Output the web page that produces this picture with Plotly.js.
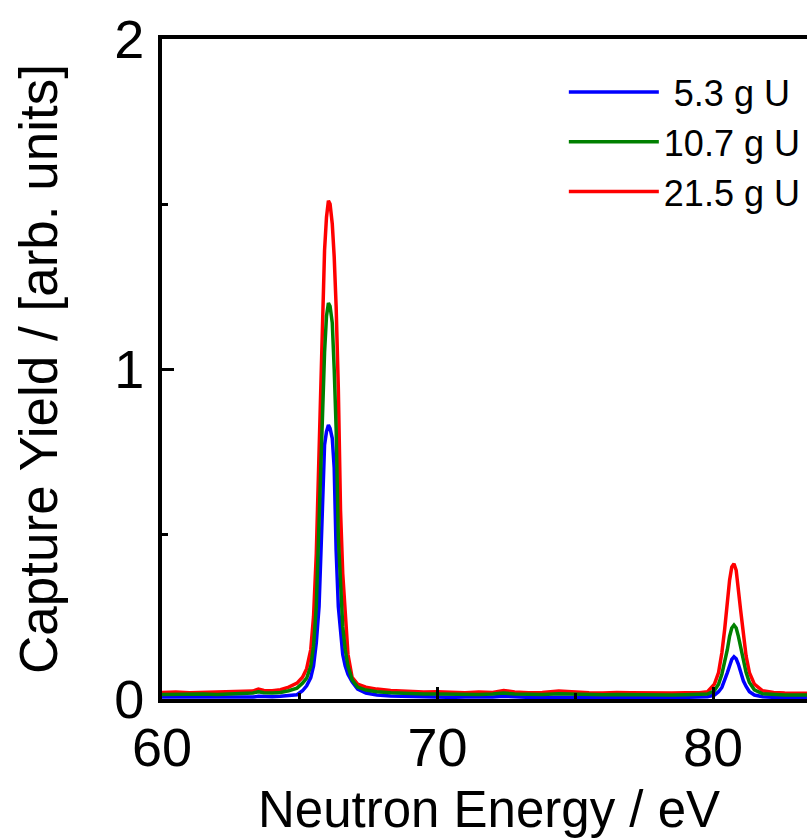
<!DOCTYPE html>
<html>
<head>
<meta charset="utf-8">
<script src="https://cdn.plot.ly/plotly-3.0.1.min.js"></script>
<style>
html,body{margin:0;padding:0;background:#fff;overflow:hidden;}
#chart{width:807px;height:839px;}
</style>
</head>
<body>
<div id="chart"></div>
<script>
// Neutron energy grid (eV)
const energy = [
  60.0, 60.5, 61.0, 61.5, 62.0, 62.5, 63.0, 63.3, 63.5, 63.7,
  64.0, 64.3, 64.6, 64.9, 65.1, 65.25, 65.4, 65.5, 65.6, 65.7,
  65.8, 65.9, 65.97, 66.04, 66.1, 66.18, 66.25, 66.32, 66.4, 66.48,
  66.56, 66.65, 66.75, 66.9, 67.1, 67.4, 67.8, 68.3, 69.0, 69.5,
  70.0, 70.5, 71.0, 71.5, 72.0, 72.4, 72.8, 73.3, 73.8, 74.4,
  75.0, 75.5, 76.0, 76.5, 77.0, 77.5, 78.0, 78.5, 79.0, 79.5,
  79.8, 80.05, 80.2, 80.32, 80.42, 80.52, 80.6, 80.68, 80.76, 80.84,
  80.92, 81.0, 81.1, 81.2, 81.32, 81.5, 81.8, 82.2, 82.6, 83.0,
  83.5
];

// Capture yield, 5.3 g U
const yield53 = [
  0.006, 0.006, 0.005, 0.006, 0.006, 0.005, 0.006, 0.006, 0.008, 0.007,
  0.007, 0.008, 0.010, 0.013, 0.025, 0.040, 0.065, 0.10, 0.17, 0.28,
  0.52, 0.77, 0.81, 0.83, 0.82, 0.79, 0.70, 0.45, 0.28, 0.19,
  0.135, 0.10, 0.075, 0.052, 0.030, 0.018, 0.012, 0.009, 0.007, 0.006,
  0.006, 0.005, 0.006, 0.005, 0.006, 0.008, 0.006, 0.005, 0.005, 0.006,
  0.005, 0.005, 0.004, 0.005, 0.005, 0.004, 0.005, 0.004, 0.005, 0.005,
  0.007, 0.012, 0.022, 0.035, 0.055, 0.08, 0.10, 0.12, 0.128, 0.122,
  0.105, 0.08, 0.055, 0.038, 0.022, 0.012, 0.007, 0.005, 0.005, 0.005,
  0.005
];

// Capture yield, 10.7 g U
const yield107 = [
  0.014, 0.015, 0.014, 0.015, 0.014, 0.015, 0.016, 0.018, 0.022, 0.019,
  0.018, 0.020, 0.025, 0.033, 0.048, 0.063, 0.10, 0.16, 0.28, 0.56,
  0.84, 1.05, 1.16, 1.20, 1.19, 1.14, 1.00, 0.82, 0.49, 0.33,
  0.22, 0.15, 0.10, 0.058, 0.036, 0.027, 0.022, 0.019, 0.016, 0.015,
  0.015, 0.014, 0.015, 0.014, 0.015, 0.018, 0.015, 0.014, 0.014, 0.016,
  0.014, 0.013, 0.013, 0.014, 0.013, 0.012, 0.013, 0.012, 0.013, 0.013,
  0.015, 0.025, 0.045, 0.075, 0.11, 0.15, 0.19, 0.215, 0.224, 0.215,
  0.19, 0.155, 0.11, 0.08, 0.05, 0.028, 0.016, 0.013, 0.012, 0.012,
  0.012
];

// Capture yield, 21.5 g U
const yield215 = [
  0.020, 0.021, 0.019, 0.020, 0.021, 0.020, 0.022, 0.024, 0.030, 0.026,
  0.025, 0.028, 0.036, 0.048, 0.066, 0.092, 0.15, 0.25, 0.44, 0.72,
  1.08, 1.36, 1.46, 1.51, 1.50, 1.44, 1.34, 1.19, 0.94, 0.57,
  0.38, 0.27, 0.135, 0.066, 0.045, 0.036, 0.030, 0.026, 0.022, 0.021,
  0.022, 0.020, 0.019, 0.021, 0.020, 0.026, 0.021, 0.019, 0.020, 0.024,
  0.020, 0.019, 0.018, 0.020, 0.019, 0.018, 0.019, 0.018, 0.019, 0.019,
  0.022, 0.045, 0.08, 0.14, 0.21, 0.30, 0.36, 0.40, 0.41, 0.39,
  0.34, 0.27, 0.20, 0.13, 0.08, 0.045, 0.025, 0.020, 0.018, 0.018,
  0.017
];

const seriesNames = ['\u00a05.3 g U', '10.7 g U', '21.5 g U'];
const xTickVals = [60, 70, 80];
const yTickVals = [0, 1, 2];
const xTitle = 'Neutron Energy / eV';
const yTitle = 'Capture Yield / [arb. units]';

const FONT = 'Liberation Sans, Arial, Helvetica, sans-serif';

const traces = [
  {x: energy, y: yield53, name: seriesNames[0], legendrank: 1,
   type: 'scatter', mode: 'lines', line: {color: '#0000ff', width: 3.5}},
  {x: energy, y: yield215, name: seriesNames[2], legendrank: 3,
   type: 'scatter', mode: 'lines', line: {color: '#ff0000', width: 3.5}},
  {x: energy, y: yield107, name: seriesNames[1], legendrank: 2,
   type: 'scatter', mode: 'lines', line: {color: '#008000', width: 3.5}}
];

const layout = {
  width: 807, height: 839,
  margin: {l: 162, r: 0, t: 39, b: 140, pad: 0},
  paper_bgcolor: '#ffffff', plot_bgcolor: '#ffffff',
  font: {family: FONT, color: '#000000'},
  showlegend: true,
  legend: {
    x: 0.623, y: 0.965, xanchor: 'left', yanchor: 'top',
    bgcolor: 'rgba(0,0,0,0)', borderwidth: 0,
    font: {family: FONT, size: 36, color: '#000'},
    itemwidth: 90, tracegroupgap: 0, traceorder: 'normal'
  },
  xaxis: {
    range: [60, 83.41], autorange: false,
    tickvals: xTickVals, ticktext: xTickVals.map(String),
    ticks: 'inside', ticklen: 12, tickwidth: 3, tickcolor: '#000',
    minor: {ticks: 'inside', dtick: 5, tick0: 60, ticklen: 6, tickwidth: 3, tickcolor: '#000'},
    showline: true, linewidth: 4, linecolor: '#000', mirror: true,
    showgrid: false, zeroline: false,
    tickfont: {family: FONT, size: 54, color: '#000'},
    ticklabelstandoff: -2
  },
  yaxis: {
    range: [0, 2], autorange: false,
    tickvals: yTickVals, ticktext: yTickVals.map(String),
    ticks: 'inside', ticklen: 12, tickwidth: 3, tickcolor: '#000',
    minor: {ticks: 'inside', dtick: 0.5, tick0: 0, ticklen: 6, tickwidth: 3, tickcolor: '#000'},
    showline: true, linewidth: 4, linecolor: '#000', mirror: false,
    showgrid: false, zeroline: false,
    tickfont: {family: FONT, size: 54, color: '#000'},
    ticklabelstandoff: 3,
    title: {text: yTitle, font: {family: FONT, size: 53, color: '#000'}, standoff: 41}
  },
  annotations: [{
    text: xTitle, xref: 'paper', yref: 'paper', x: 0.507, y: -0.1667,
    xanchor: 'center', yanchor: 'middle', showarrow: false,
    font: {family: FONT, size: 51, color: '#000'}
  }]
};

Plotly.newPlot('chart', traces, layout, {displayModeBar: false, staticPlot: true});
</script>
</body>
</html>
